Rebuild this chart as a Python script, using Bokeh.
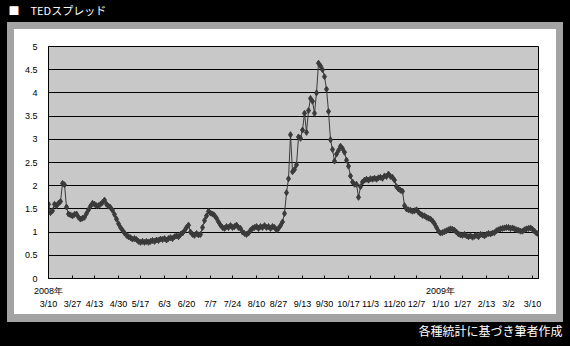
from bokeh.plotting import figure
from bokeh.models import Range1d, FixedTicker, LinearAxis, Title
from bokeh.embed import file_html
from bokeh.resources import INLINE

# ---------------- data ----------------
title_text = "■　TEDスプレッド"
source_text = "各種統計に基づき筆者作成"

date_labels = ["3/10", "3/27", "4/13", "4/30", "5/17", "6/3", "6/20", "7/7", "7/24",
               "8/10", "8/27", "9/13", "9/30", "10/17", "11/3", "11/20", "12/7",
               "1/10", "1/27", "2/13", "3/2", "3/10"]
year_labels = ["2008年", "2009年"]
year_label_slots = [0, 17]

y_ticks = [0, 0.5, 1, 1.5, 2, 2.5, 3, 3.5, 4, 4.5, 5]
y_tick_labels = ["0", "0.5", "1", "1.5", "2", "2.5", "3", "3.5", "4", "4.5", "5"]

# TED spread (%), business days, 2008/3/10 - 2009/3/10
ted_spring = [1.60, 1.42, 1.46, 1.60, 1.57, 1.62, 1.66, 2.05, 2.02, 1.54,
              1.39, 1.37, 1.35, 1.38, 1.39, 1.32, 1.28, 1.30, 1.32, 1.40,
              1.48, 1.56, 1.62, 1.60, 1.57, 1.57, 1.60, 1.64, 1.69, 1.60,
              1.56, 1.53, 1.47, 1.38, 1.28, 1.18, 1.10, 1.04, 0.98, 0.93,
              0.90, 0.88, 0.85, 0.86, 0.84, 0.80, 0.78]
ted_summer = [0.80, 0.78, 0.80, 0.78, 0.80, 0.82, 0.80, 0.83, 0.82, 0.85,
              0.84, 0.86, 0.83, 0.86, 0.88, 0.86, 0.90, 0.92, 0.90, 0.95,
              0.98, 1.03, 1.10, 1.15, 1.00, 0.95, 0.93, 0.97, 0.94, 0.95,
              1.10, 1.25, 1.35, 1.45, 1.41, 1.39, 1.36, 1.30, 1.22, 1.15,
              1.10, 1.08, 1.12, 1.10, 1.14, 1.10, 1.12, 1.15, 1.10, 1.08,
              1.00, 0.97, 0.95, 0.98, 1.04, 1.08, 1.10, 1.12, 1.08, 1.12,
              1.10, 1.14, 1.10, 1.12, 1.08, 1.12, 1.10, 1.05, 1.08]
ted_crisis = [1.14, 1.22, 1.40, 1.85, 2.15, 3.10, 2.30, 2.35, 2.45, 3.05,
              3.02, 3.20, 3.56, 3.15, 3.62, 3.88, 3.82, 3.56, 4.00, 4.64,
              4.58, 4.50, 4.35, 4.08, 3.60, 2.99, 2.78, 2.53, 2.68, 2.76,
              2.85, 2.80, 2.72, 2.55, 2.42, 2.21, 2.08, 2.03, 2.03, 1.75]
ted_autumn = [1.98, 2.08, 2.12, 2.14, 2.12, 2.15, 2.14, 2.16, 2.14, 2.17,
              2.18, 2.16, 2.21, 2.20, 2.25, 2.20, 2.18, 2.12, 1.98, 1.93,
              1.90, 1.88, 1.57, 1.50, 1.48, 1.47, 1.45, 1.46, 1.48, 1.43,
              1.39, 1.36, 1.35, 1.32, 1.30, 1.28, 1.24, 1.18, 1.10, 1.02,
              0.98, 0.99, 1.01, 1.03, 1.05]
ted_winter = [1.07, 1.06, 1.04, 1.00, 0.96, 0.94, 0.93, 0.95, 0.92, 0.90,
              0.92, 0.89, 0.91, 0.93, 0.90, 0.95, 0.94, 0.92, 0.95, 0.97,
              0.96, 0.98, 0.99, 1.03, 1.05, 1.07, 1.08, 1.09, 1.10, 1.10,
              1.08, 1.09, 1.07, 1.05, 1.04, 1.02, 1.02, 1.05, 1.07, 1.08,
              1.09, 1.06, 1.02, 0.98, 0.95]

values = ted_spring + ted_summer + ted_crisis + ted_autumn + ted_winter
xs = list(range(len(values)))
n_last = len(values) - 1

# label slots spread evenly along the category axis
label_step = 11.5
tick_pos = [int(k * label_step + 0.5) for k in range(len(date_labels))]

# ---------------- figure ----------------
p = figure(width=570, height=346, output_backend="svg", toolbar_location=None,
           x_range=Range1d(0, n_last), y_range=Range1d(0, 5),
           x_axis_location=None, title=None,
           min_border_left=48, min_border_right=32,
           min_border_top=46, min_border_bottom=66)
p.border_fill_color = None
p.background_fill_color = "#c8c8c8"
p.outline_line_color = "black"
p.outline_line_width = 1
# black page with grey-edged white panel behind the canvas
p.styles = {
    "background": ("linear-gradient(#ffffff,#ffffff) 14px 29px / 542px 285px no-repeat, "
                   "linear-gradient(#a3a3a3,#a3a3a3) 7px 22px / 556px 300px no-repeat, "
                   "#000000"),
}

# title (top-left, on black); a blank second line lifts it away from the panel
p.add_layout(Title(text=title_text + "\n　", align="left", offset=-40, standoff=0,
                   vertical_align="top", text_line_height=1.7,
                   text_color="white", text_font="Noto Sans CJK JP",
                   text_font_size="11px", text_font_style="normal"), "above")

# data
p.line(xs, values, line_color="#3a3a3a", line_width=1)
p.scatter(xs, values, marker="diamond", size=6, fill_color="#3a3a3a",
          line_color="#3a3a3a")

# x axis: year row (closest to frame, carries the inward ticks) then date row
year_overrides = {t: "" for t in tick_pos}
for slot, lab in zip(year_label_slots, year_labels):
    year_overrides[tick_pos[slot]] = lab
year_axis = LinearAxis(ticker=FixedTicker(ticks=tick_pos),
                       major_label_overrides=year_overrides,
                       major_tick_in=3, major_tick_out=0,
                       minor_tick_in=0, minor_tick_out=0,
                       major_label_standoff=7,
                       axis_line_color="black", major_tick_line_color="black",
                       major_label_text_font="Liberation Sans",
                       major_label_text_font_size="9px",
                       major_label_text_line_height=1.0,
                       major_label_text_color="black")
date_axis = LinearAxis(ticker=FixedTicker(ticks=tick_pos),
                       major_label_overrides={t: lab for t, lab in zip(tick_pos, date_labels)},
                       major_tick_in=0, major_tick_out=0,
                       minor_tick_in=0, minor_tick_out=0,
                       major_label_standoff=0,
                       axis_line_color=None, major_tick_line_color=None,
                       major_label_text_font="Liberation Sans",
                       major_label_text_font_size="9px",
                       major_label_text_color="black")
p.add_layout(year_axis, "below")
p.add_layout(date_axis, "below")
p.add_layout(Title(text=source_text, align="right", offset=-24, standoff=16,
                   text_color="white", text_font="Noto Sans CJK JP",
                   text_font_size="12px", text_font_style="normal"), "below")
p.xgrid.visible = False

# y axis
p.yaxis.ticker = FixedTicker(ticks=y_ticks)
p.yaxis.major_label_overrides = dict(zip(y_ticks, y_tick_labels))
p.yaxis.major_tick_in = 0
p.yaxis.major_tick_out = 0
p.yaxis.minor_tick_in = 0
p.yaxis.minor_tick_out = 0
p.yaxis.major_label_standoff = 11
p.yaxis.axis_line_color = "black"
p.yaxis.major_label_text_font = "Liberation Sans"
p.yaxis.major_label_text_font_size = "9px"
p.yaxis.major_label_text_color = "black"
p.ygrid.grid_line_color = "black"
p.ygrid.grid_line_width = 1

open("out.html", "w").write(file_html(p, INLINE))
